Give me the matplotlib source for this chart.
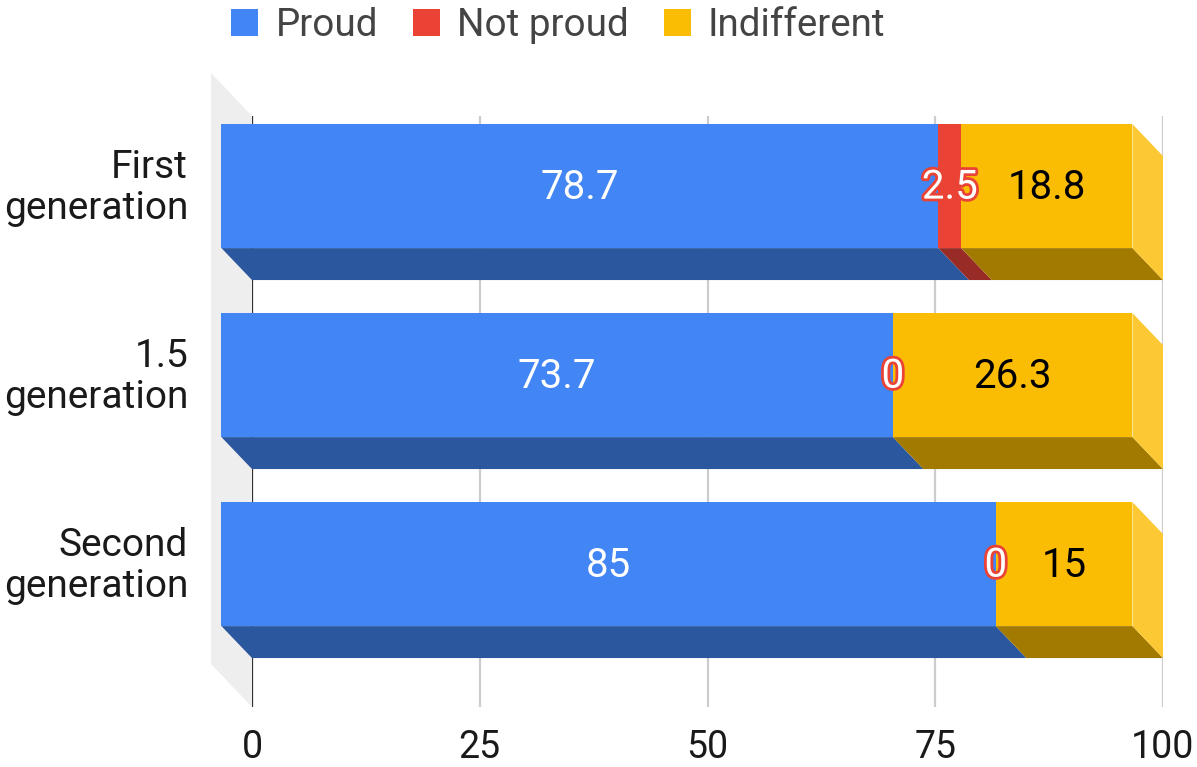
import matplotlib
matplotlib.use("Agg")
import matplotlib.pyplot as plt
import matplotlib.patheffects as pe
from matplotlib.patches import Patch
import numpy as np

plt.rcParams['font.family'] = ['Roboto', 'DejaVu Sans']

categories = ["First\ngeneration", "1.5\ngeneration", "Second\ngeneration"]
series_names = ["Proud", "Not proud", "Indifferent"]
proud = [78.7, 73.7, 85]
not_proud = [2.5, 0, 0]
indifferent = [18.8, 26.3, 15]
x_ticks = [0, 25, 50, 75, 100]

colors = ["#4285F4", "#EA4335", "#FBBC04"]
bottom_colors = ["#2B579F", "#982B25", "#A37A00"]
side_colors = ["#2B579F", "#982B25", "#FCC934"]
W, H = 1197, 767

# bar depth, in data units (30px / 32px on the reference)
depth_x = 3.35
depth_y = 0.169
bar_h = 0.656


def main():
    fig = plt.figure(figsize=(W / 100, H / 100), dpi=100)
    ax = fig.add_axes([252 / W, 1 - 707 / H, (1163 - 252) / W, (707 - 116) / H])
    ax.set_xlim(0, 100)
    ax.set_ylim(2.587, -0.54)
    for s in ax.spines.values():
        s.set_visible(False)

    ax.set_xticks(x_ticks)
    ax.set_xticklabels([str(t) for t in x_ticks], fontsize=27, color="#1a1a1a")
    ax.tick_params(axis="x", length=0, pad=16)
    ax.grid(axis="x", color="#CCCCCC", lw=1.6, zorder=1)
    ax.set_axisbelow(True)
    ax.axvline(0, color="#333333", lw=1.6, zorder=1.5)

    # left wall
    top, bot = ax.get_ylim()[1], ax.get_ylim()[0]
    ax.fill([-4.5, 0, 0, -4.5], [top - 0.2275, top, bot, bot - 0.2275],
            color="#EEEEEE", lw=0, clip_on=False, zorder=0.5)

    y = np.arange(len(categories))
    ax.set_yticks(y - depth_y - 0.02)
    ax.set_yticklabels(categories, fontsize=28, color="#1a1a1a", linespacing=1.13, ha="right")
    ax.tick_params(axis="y", length=0, pad=46)

    left = np.zeros(len(categories))
    for k, vals in enumerate([proud, not_proud, indifferent]):
        vals = np.array(vals, dtype=float)
        for i in y:
            x0, x1 = left[i], left[i] + vals[i]
            yb = i + bar_h / 2
            if vals[i] > 0:
                # underside
                ax.fill([x0 - depth_x, x1 - depth_x, x1, x0],
                        [yb - depth_y, yb - depth_y, yb, yb],
                        color=bottom_colors[k], lw=0, clip_on=False, zorder=2)
        ax.barh(y - depth_y, vals, left=left - depth_x, height=bar_h,
                color=colors[k], lw=0, clip_on=False, zorder=3)
        left = left + vals

    # right hand side of the stack
    for i in y:
        yt, yb = i - bar_h / 2, i + bar_h / 2
        x1 = left[i]
        ax.fill([x1 - depth_x, x1, x1, x1 - depth_x],
                [yt - depth_y, yt, yb, yb - depth_y],
                color=side_colors[2], lw=0, clip_on=False, zorder=2.5)

    # value labels
    left = np.zeros(len(categories))
    for k, vals in enumerate([proud, not_proud, indifferent]):
        for i in y:
            v = vals[i]
            xc = left[i] + v / 2 - depth_x
            t = ax.text(xc, i - depth_y - 0.016, f"{v:g}", ha="center", va="center_baseline",
                        fontsize=29, zorder=5,
                        color="black" if k == 2 else "white")
            if k == 1:
                t.set_path_effects([pe.withStroke(linewidth=4, foreground=colors[1])])
        left = left + np.array(vals)

    handles = [Patch(color=c, lw=0) for c in colors]
    fig.legend(handles, series_names, loc="upper left", bbox_to_anchor=(231 / W, 1 - 7 / H),
               ncol=3, frameon=False, fontsize=27.8, labelcolor="#444444",
               handlelength=0.7, handleheight=0.7, handletextpad=0.45,
               columnspacing=0.9, borderpad=0, borderaxespad=0)

    fig.savefig("out.png", dpi=100)


if __name__ == "__main__":
    main()
